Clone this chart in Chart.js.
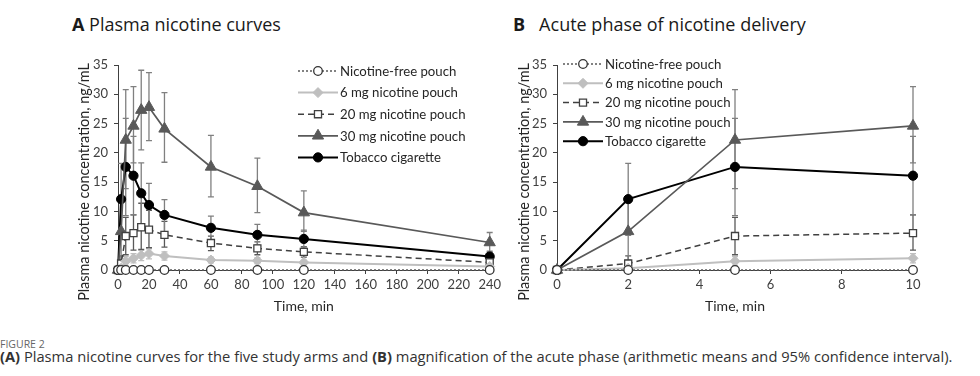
<!DOCTYPE html>
<html>
<head>
<meta charset="utf-8">
<script src="https://cdn.jsdelivr.net/npm/chart.js@4.4.1/dist/chart.umd.min.js"></script>
<style>
  body { margin: 0; width: 980px; height: 376px; background: #fff; position: relative; overflow: hidden; font-family: Lato, sans-serif; }
  .ttl { position: absolute; top: 12px; font-family: 'Open Sans', sans-serif; font-size: 18px; color: #1a1a1a; white-space: nowrap; }
  .ttl b { font-family: 'Open Sans', sans-serif; font-weight: 700; }
  #wa { position: absolute; left: 0; top: 45px; width: 504px; height: 280px; }
  #wb { position: absolute; left: 490px; top: 45px; width: 490px; height: 280px; }
  .ylab { position: absolute; width: 280px; height: 20px; line-height: 20px; text-align: center; font-size: 14.4px; color: #262626;
          transform: rotate(-90deg); transform-origin: 50% 50%; white-space: nowrap; top: 172px; }
  .fig { position: absolute; left: 0; top: 337px; font-size: 10.5px; color: #666; font-family: 'Open Sans', sans-serif; }
  .cap { position: absolute; left: 0; top: 346px; font-size: 14.7px; color: #333; white-space: nowrap; font-family: 'Open Sans', sans-serif; }
</style>
</head>
<body>
<div class="ttl" style="left:72px"><b>A</b> Plasma nicotine curves</div>
<div class="ttl" style="left:513px"><b>B</b>&nbsp;&nbsp; Acute phase of nicotine delivery</div>
<div id="wa"><canvas id="chartA"></canvas></div>
<div id="wb"><canvas id="chartB"></canvas></div>
<div class="ylab" style="left:-56px">Plasma nicotine concentration, ng/mL</div>
<div class="ylab" style="left:384px">Plasma nicotine concentration, ng/mL</div>
<div class="fig">FIGURE 2</div>
<div class="cap"><b>(A)</b> Plasma nicotine curves for the five study arms and <b>(B)</b> magnification of the acute phase (arithmetic means and 95% confidence interval).</div>

<script>
const times = [0, 2, 5, 10, 15, 20, 30, 60, 90, 120, 240];
const labels = ['Nicotine-free pouch', '6 mg nicotine pouch', '20 mg nicotine pouch', '30 mg nicotine pouch', 'Tobacco cigarette'];

const freeMean = [0, 0, 0, 0, 0, 0, 0, 0, 0, 0, 0];
const mg6Mean = [0, 0.3, 1.5, 2.0, 2.5, 2.8, 2.4, 1.7, 1.6, 1.3, 0.6];
const mg6Lo = [0, 0.1, 0.8, 1.2, 1.6, 1.9, 1.7, 1.2, 1.1, 0.9, 0.3];
const mg6Hi = [0, 0.6, 2.3, 2.8, 3.4, 3.6, 3.1, 2.2, 2.1, 1.7, 0.9];
const mg20Mean = [0, 1.1, 5.8, 6.3, 7.3, 6.9, 6.0, 4.6, 3.7, 3.1, 1.3];
const mg20Lo = [0, 0.2, 2.6, 3.4, 3.5, 3.8, 3.9, 3.3, 2.6, 2.2, 0.8];
const mg20Hi = [0, 2.4, 9.0, 9.4, 11.4, 10.2, 8.3, 5.8, 4.8, 4.0, 1.9];
const mg30Mean = [0, 6.6, 22.2, 24.6, 27.3, 27.8, 24.1, 17.6, 14.3, 9.8, 4.7];
const mg30Lo = [0, 1.7, 13.9, 18.3, 20.5, 22.1, 18.4, 12.5, 9.8, 6.6, 3.0];
const mg30Hi = [0, 11.7, 30.8, 31.3, 34.1, 33.7, 30.3, 23.0, 19.1, 13.5, 6.4];
const cigMean = [0, 12.1, 17.6, 16.1, 13.1, 11.1, 9.4, 7.2, 6.0, 5.3, 2.3];
const cigLo = [0, 5.9, 9.3, 9.4, 7.9, 7.4, 6.5, 5.2, 4.3, 3.9, 1.4];
const cigHi = [0, 18.2, 25.9, 22.8, 18.3, 14.8, 12.0, 9.2, 7.8, 6.8, 3.2];

const yTicks = [0, 5, 10, 15, 20, 25, 30, 35];

// points for the chart, only the first n time points
function pts(arr, n) {
  return times.slice(0, n).map((t, i) => ({ x: t, y: arr[i] }));
}

function makeSets(n) {
  return [
    { label: labels[0], data: pts(freeMean, n), borderColor: '#595959', borderWidth: 1.4, borderDash: [2, 2],
      pointStyle: 'circle', pointRadius: 4.3, pointBackgroundColor: '#fff', pointBorderColor: '#333', pointBorderWidth: 1.3 },
    { label: labels[1], data: pts(mg6Mean, n), borderColor: '#bfbfbf', borderWidth: 2,
      pointStyle: 'rectRot', pointRadius: 5, pointBackgroundColor: '#bfbfbf', pointBorderColor: '#bfbfbf', pointBorderWidth: 1,
      lo: mg6Lo, hi: mg6Hi, errColor: '#bfbfbf' },
    { label: labels[2], data: pts(mg20Mean, n), borderColor: '#404040', borderWidth: 1.5, borderDash: [6, 4],
      pointStyle: 'rect', pointRadius: 5, pointBackgroundColor: '#fff', pointBorderColor: '#404040', pointBorderWidth: 1.3,
      lo: mg20Lo, hi: mg20Hi, errColor: '#595959' },
    { label: labels[3], data: pts(mg30Mean, n), borderColor: '#595959', borderWidth: 1.7,
      pointStyle: 'triangle', pointRadius: 6.5, pointBackgroundColor: '#595959', pointBorderColor: '#595959', pointBorderWidth: 1,
      lo: mg30Lo, hi: mg30Hi, errColor: '#808080' },
    { label: labels[4], data: pts(cigMean, n), borderColor: '#000', borderWidth: 2,
      pointStyle: 'circle', pointRadius: 4.6, pointBackgroundColor: '#000', pointBorderColor: '#000', pointBorderWidth: 1,
      lo: cigLo, hi: cigHi, errColor: '#7f7f7f' }
  ].map(d => Object.assign(d, { clip: false, tension: 0, fill: false }));
}

const errorBars = {
  id: 'errorBars',
  beforeDatasetsDraw(chart) {
    const ctx = chart.ctx, xs = chart.scales.x, ys = chart.scales.y;
    chart.data.datasets.forEach(ds => {
      if (!ds.lo) return;
      ctx.save();
      ctx.strokeStyle = ds.errColor;
      ctx.lineWidth = 1.3;
      ds.data.forEach((p, i) => {
        const lo = ds.lo[i], hi = ds.hi[i];
        if (hi - lo <= 0) return;
        const x = xs.getPixelForValue(p.x);
        const y1 = ys.getPixelForValue(lo), y2 = ys.getPixelForValue(hi);
        ctx.beginPath();
        ctx.moveTo(x, y1); ctx.lineTo(x, y2);
        ctx.moveTo(x - 3, y1); ctx.lineTo(x + 3, y1);
        ctx.moveTo(x - 3, y2); ctx.lineTo(x + 3, y2);
        ctx.stroke();
      });
      ctx.restore();
    });
  }
};

// legend drawn inside the plot like the excel one
const lineLegend = {
  id: 'lineLegend',
  afterDraw(chart, args, opts) {
    const ctx = chart.ctx;
    chart.data.datasets.forEach((ds, i) => {
      const y = opts.y + i * opts.step;
      ctx.save();
      ctx.strokeStyle = ds.borderColor;
      ctx.lineWidth = ds.borderWidth;
      ctx.setLineDash(ds.borderDash || []);
      ctx.beginPath();
      ctx.moveTo(opts.x, y);
      ctx.lineTo(opts.x + 40, y);
      ctx.stroke();
      ctx.setLineDash([]);
      ctx.fillStyle = ds.pointBackgroundColor;
      ctx.strokeStyle = ds.pointBorderColor;
      ctx.lineWidth = ds.pointBorderWidth;
      Chart.helpers.drawPoint(ctx, { pointStyle: ds.pointStyle, radius: ds.pointRadius, borderWidth: ds.pointBorderWidth, rotation: 0 }, opts.x + 20, y);
      ctx.fillStyle = '#262626';
      ctx.font = '13.2px Lato';
      ctx.textBaseline = 'middle';
      ctx.fillText(ds.label, opts.x + 42, y + 0.5);
      ctx.restore();
    });
  }
};

function makeOptions(xMax, xStep, padLeft, padRight, legend) {
  return {
    responsive: true,
    maintainAspectRatio: false,
    animation: false,
    layout: { padding: { left: padLeft, right: padRight, top: 20, bottom: 7 } },
    plugins: { legend: { display: false }, tooltip: { enabled: false }, lineLegend: legend },
    scales: {
      x: {
        type: 'linear', min: 0, max: xMax,
        afterFit: s => { s.height = 48; },
        ticks: { stepSize: xStep, color: '#404040', font: { size: 13, family: 'Lato' }, padding: 3, maxRotation: 0 },
        grid: { drawOnChartArea: false, drawTicks: true, tickLength: 4, color: '#404040' },
        border: { color: '#404040', width: 1 },
        title: { display: true, text: 'Time, min', color: '#262626', font: { size: 14, family: 'Lato' }, padding: { top: 4, bottom: 3 } }
      },
      y: {
        min: 0, max: 35,
        afterFit: s => { s.width = 43; },
        afterBuildTicks: s => { s.ticks = yTicks.map(v => ({ value: v })); },
        ticks: { color: '#404040', font: { size: 13, family: 'Lato' }, padding: 6 },
        grid: { drawOnChartArea: false, drawTicks: true, tickLength: 4, color: '#404040' },
        border: { color: '#404040', width: 1 }
      }
    }
  };
}

new Chart(document.getElementById('chartA'), {
  type: 'line',
  data: { datasets: makeSets(11) },
  options: makeOptions(240, 20, 75, 12, { x: 298, y: 26, step: 21.6 }),
  plugins: [errorBars, lineLegend]
});

new Chart(document.getElementById('chartB'), {
  type: 'line',
  data: { datasets: makeSets(4) },
  options: makeOptions(10, 2, 24, 67, { x: 73, y: 19, step: 19.3 }),
  plugins: [errorBars, lineLegend]
});
</script>
</body>
</html>
